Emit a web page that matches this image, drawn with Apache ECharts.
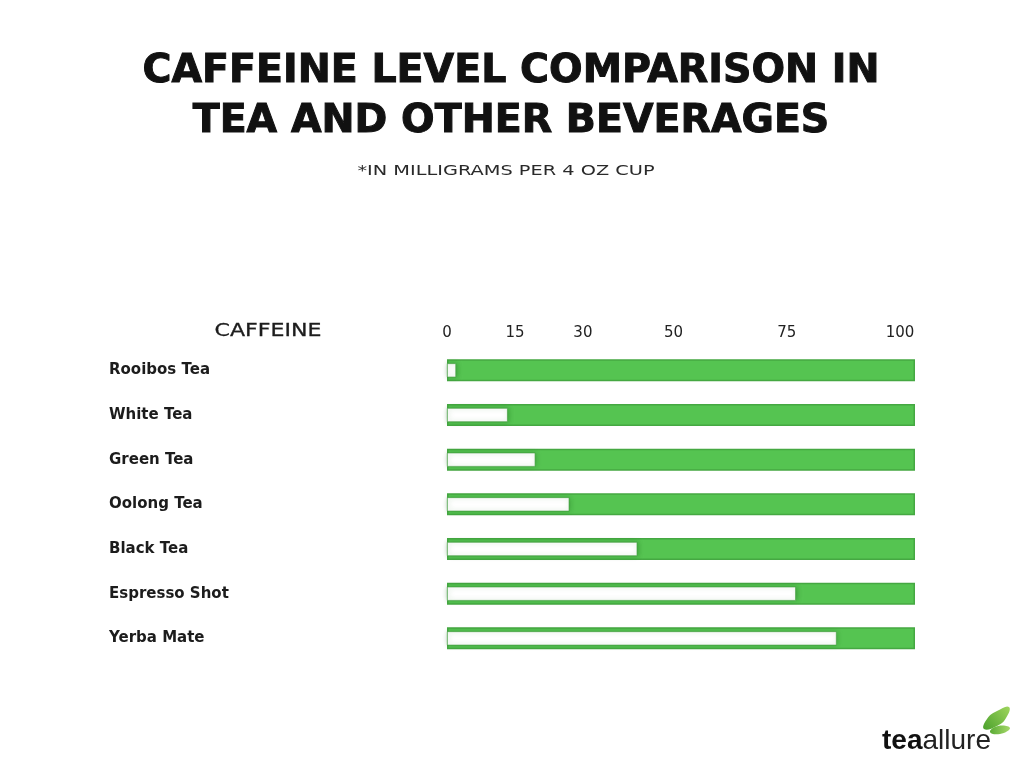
<!DOCTYPE html>
<html>
<head>
<meta charset="utf-8">
<script src="https://cdn.jsdelivr.net/npm/echarts@6/dist/echarts.min.js"></script>
<style>
  html, body { margin: 0; padding: 0; background: #ffffff; }
  #chart { width: 1024px; height: 768px; }
</style>
</head>
<body>
<div id="chart"></div>
<script>
// ---- data ----
const categories = ['Rooibos Tea', 'White Tea', 'Green Tea', 'Oolong Tea', 'Black Tea', 'Espresso Shot', 'Yerba Mate'];
const caffeineMg = [2, 13.4, 19.5, 27, 42, 77, 86];
const tickValues = [0, 15, 30, 50, 75, 100];
const axisMax = 103.3;          // the green track runs slightly past the "100" label
const trackValues = categories.map(() => axisMax);

const titleLine1 = 'CAFFEINE LEVEL COMPARISON IN';
const titleLine2 = 'TEA AND OTHER BEVERAGES';
const subtitleText = '*IN MILLIGRAMS PER 4 OZ CUP';
const headerText = 'CAFFEINE';

const chart = echarts.init(document.getElementById('chart'), null, { renderer: 'canvas' });

const option = {
  backgroundColor: '#ffffff',
  animation: false,
  grid: { left: 447, right: 109, top: 348, bottom: 107.3, containLabel: false },
  xAxis: [
    {
      type: 'value', position: 'top', min: 0, max: axisMax,
      axisLine: { show: false }, axisTick: { show: false }, splitLine: { show: false },
      axisLabel: {
        customValues: tickValues,
        margin: 7,
        fontFamily: 'DejaVu Sans', fontSize: 15, color: '#222'
      }
    }
  ],
  yAxis: [
    {
      type: 'category', inverse: true, data: categories,
      axisLine: { show: false }, axisTick: { show: false }, splitLine: { show: false },
      axisLabel: {
        align: 'left', margin: 338,
        fontFamily: 'DejaVu Sans', fontWeight: 'bold', fontSize: 15, color: '#1c1c1c'
      }
    },
    {
      type: 'category', inverse: true, data: categories, show: false
    }
  ],
  series: [
    {
      name: 'track', type: 'bar', yAxisIndex: 0, data: trackValues,
      barWidth: 22, silent: true, z: 1,
      itemStyle: { color: '#55c451', borderColor: '#45a842', borderWidth: 1.5 }
    },
    {
      name: 'Caffeine', type: 'bar', yAxisIndex: 1, data: caffeineMg,
      barWidth: 14, z: 3,
      itemStyle: {
        color: '#ffffff', borderColor: '#3f9a3c', borderWidth: 0.6,
        shadowColor: 'rgba(30,110,30,0.45)', shadowBlur: 5, shadowOffsetX: 1
      }
    }
  ],
  graphic: [
    {
      type: 'text', x: 511, y: 72,
      style: { text: titleLine1, font: 'bold 39.5px "DejaVu Sans"', fill: '#111', stroke: '#111', lineWidth: 1, align: 'center', verticalAlign: 'middle' }
    },
    {
      type: 'text', x: 511, y: 122,
      style: { text: titleLine2, font: 'bold 39.5px "DejaVu Sans"', fill: '#111', stroke: '#111', lineWidth: 1, align: 'center', verticalAlign: 'middle' }
    },
    {
      type: 'text', x: 506, y: 171, scaleX: 1.38,
      style: { text: subtitleText, font: '500 14px "DejaVu Sans"', fill: '#2a2a2a', align: 'center', verticalAlign: 'middle' }
    },
    {
      type: 'text', x: 268, y: 332, scaleX: 1.3,
      style: { text: headerText, font: '17px "DejaVu Sans"', fill: '#1c1c1c', stroke: '#1c1c1c', lineWidth: 0.3, align: 'center', verticalAlign: 'middle' }
    },
    {
      type: 'text', x: 882, y: 755,
      style: {
        text: '{b|tea}{n|allure}', align: 'left', verticalAlign: 'bottom',
        rich: {
          b: { fontFamily: 'Liberation Sans', fontWeight: 'bold', fontSize: 28, fill: '#111', color: '#111' },
          n: { fontFamily: 'Liberation Sans', fontWeight: 'normal', fontSize: 28, fill: '#222', color: '#222' }
        }
      }
    },
    {
      type: 'polygon',
      shape: { points: [[984, 729], [987, 719], [997, 711], [1009, 707], [1006, 718], [997, 726]], smooth: 0.5 },
      style: { fill: { type: 'linear', x: 0, y: 1, x2: 1, y2: 0, colorStops: [{ offset: 0, color: '#4aa02c' }, { offset: 1, color: '#a0d65e' }] } }
    },
    {
      type: 'polygon',
      shape: { points: [[990, 732], [998, 726], [1010, 728], [1000, 734]], smooth: 0.5 },
      style: { fill: { type: 'linear', x: 0, y: 0, x2: 1, y2: 0, colorStops: [{ offset: 0, color: '#5aab35' }, { offset: 1, color: '#a6d86a' }] } }
    }
  ]
};

chart.setOption(option);
</script>
</body>
</html>
